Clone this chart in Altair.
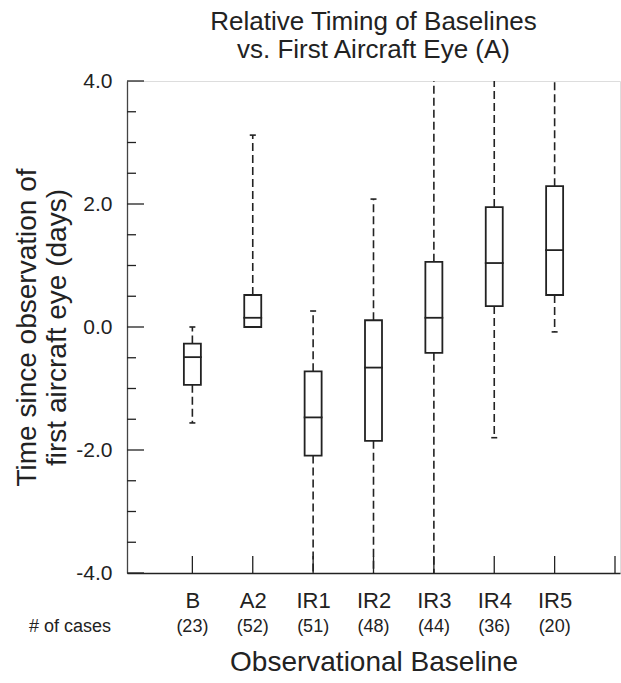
import altair as alt
import pandas as pd
import json

# ---- data ----
categories = ["B", "A2", "IR1", "IR2", "IR3", "IR4", "IR5"]
positions = [1, 2, 3, 4, 5, 6, 7]
case_counts = [23, 52, 51, 48, 44, 36, 20]
whisker_low = [-1.56, 0.0, -4.0, -4.0, -4.0, -1.80, -0.08]
q1 = [-0.94, 0.0, -2.09, -1.85, -0.42, 0.34, 0.52]
median = [-0.49, 0.15, -1.47, -0.66, 0.15, 1.04, 1.25]
q3 = [-0.27, 0.52, -0.72, 0.11, 1.06, 1.95, 2.29]
whisker_high = [0.0, 3.12, 0.26, 2.08, 4.0, 4.0, 4.0]

y_label_values = [-4, -2, 0, 2, 4]
y_minor_values = [-3.5, -3, -2.5, -1.5, -1, -0.5, 0.5, 1, 1.5, 2.5, 3, 3.5]
x_tick_positions = [1, 2, 3, 4, 5, 6, 7, 8]
x_domain = [0, 8]
y_domain = [-4, 4]

# ---- styling ----
W, H = 493, 492
INK = "#222222"
FONT = "Liberation Sans"

boxes = pd.DataFrame({
    "cat": categories, "pos": positions, "n": case_counts,
    "wlo": whisker_low, "q1": q1, "med": median, "q3": q3, "whi": whisker_high,
})
boxes["count_label"] = ["(%d)" % c for c in case_counts]

x_scale = alt.Scale(domain=x_domain, nice=False, zero=False)
y_scale = alt.Scale(domain=y_domain, nice=False, zero=False)

x_axis = alt.Axis(
    values=positions,
    labelExpr=json.dumps(categories) + "[datum.value - 1]",
    labelFontSize=22, labelFont=FONT, labelColor=INK,
    labelBaseline="alphabetic", labelPadding=34,
    labelFlush=False, labelOverlap=False,
    ticks=False, tickSize=0, grid=False,
    domainColor=INK, domainWidth=1.5,
    title="Observational Baseline", titleFontSize=28, titleFont=FONT,
    titleFontWeight="normal", titleColor=INK,
    titleBaseline="alphabetic", titleY=97,
)
y_axis = alt.Axis(
    values=y_label_values,
    labelExpr="(datum.value < 0 ? '-' : '') + format(abs(datum.value), '.1f')",
    labelFontSize=21, labelFont=FONT, labelColor=INK, labelPadding=15,
    labelFlush=False, labelOverlap=False,
    ticks=False, tickSize=0, grid=False,
    domainColor="#444444", domainWidth=1.3,
    title=["Time since observation of", "first aircraft eye (days)"],
    titleFontSize=28, titleLineHeight=30, titleFont=FONT,
    titleFontWeight="normal", titleColor=INK,
    titleBaseline="bottom", titleAngle=-90, titleAlign="center",
    titleX=-86, titleY=H / 2,
)


def X(field):
    return alt.X(field, type="quantitative", scale=x_scale, axis=x_axis)


def Y(field):
    return alt.Y(field, type="quantitative", scale=y_scale, axis=y_axis)


base = alt.Chart(boxes)

upper_whisker = base.mark_rule(strokeDash=[8, 4], strokeWidth=1.6, color=INK).encode(
    x=X("pos"), y=Y("q3"), y2="whi:Q")
lower_whisker = base.mark_rule(strokeDash=[8, 4], strokeWidth=1.6, color=INK).encode(
    x=X("pos"), y=Y("q1"), y2="wlo:Q")

caps = base.transform_fold(["wlo", "whi"], as_=["end", "val"]).transform_filter(
    "datum.val > -4 && datum.val < 4"
).mark_rule(strokeWidth=1.6, color=INK, xOffset=-3, x2Offset=3).encode(
    x=X("pos"), x2="pos:Q", y=Y("val"))

box = base.mark_bar(size=17, fill="white", stroke=INK, strokeWidth=1.8).encode(
    x=X("pos"), y=Y("q1"), y2="q3:Q")

med = base.mark_rule(strokeWidth=1.8, color=INK, xOffset=-9.4, x2Offset=9.4).encode(
    x=X("pos"), x2="pos:Q", y=Y("med"))

major_ticks = alt.Chart(pd.DataFrame({"v": y_label_values})).mark_rule(
    color=INK, strokeWidth=1.3).encode(y=Y("v"), x=alt.value(0), x2=alt.value(17))
minor_ticks = alt.Chart(pd.DataFrame({"v": y_minor_values})).mark_rule(
    color=INK, strokeWidth=1.3).encode(y=Y("v"), x=alt.value(0), x2=alt.value(9))

x_ticks = alt.Chart(pd.DataFrame({"p": x_tick_positions})).mark_rule(
    color=INK, strokeWidth=1.3).encode(x=X("p"), y=alt.value(H), y2=alt.value(H - 17))

counts = base.mark_text(fontSize=18, font=FONT, color=INK, baseline="alphabetic").encode(
    x=X("pos"), y=alt.value(H + 59), text="count_label:N")

cases_label = alt.Chart(pd.DataFrame({"t": ["# of cases"]})).mark_text(
    fontSize=18, font=FONT, color=INK, baseline="alphabetic", align="right").encode(
    x=alt.value(-16), y=alt.value(H + 59), text="t:N")

chart = alt.layer(
    upper_whisker, lower_whisker, caps, box, med,
    major_ticks, minor_ticks, x_ticks, counts, cases_label,
).properties(
    width=W, height=H,
    autosize=alt.AutoSizeParams(type="none"),
    padding={"left": 127, "top": 81, "right": 1, "bottom": 110},
    title=alt.Title(
        text=["Relative Timing of Baselines", "vs. First Aircraft Eye (A)"],
        fontSize=26, lineHeight=28, font=FONT, fontWeight="normal",
        color=INK, anchor="middle", offset=7,
    ),
).configure_view(stroke=None).configure(background="white")

chart.save("out.html", embed_options={"renderer": "svg", "actions": False})
